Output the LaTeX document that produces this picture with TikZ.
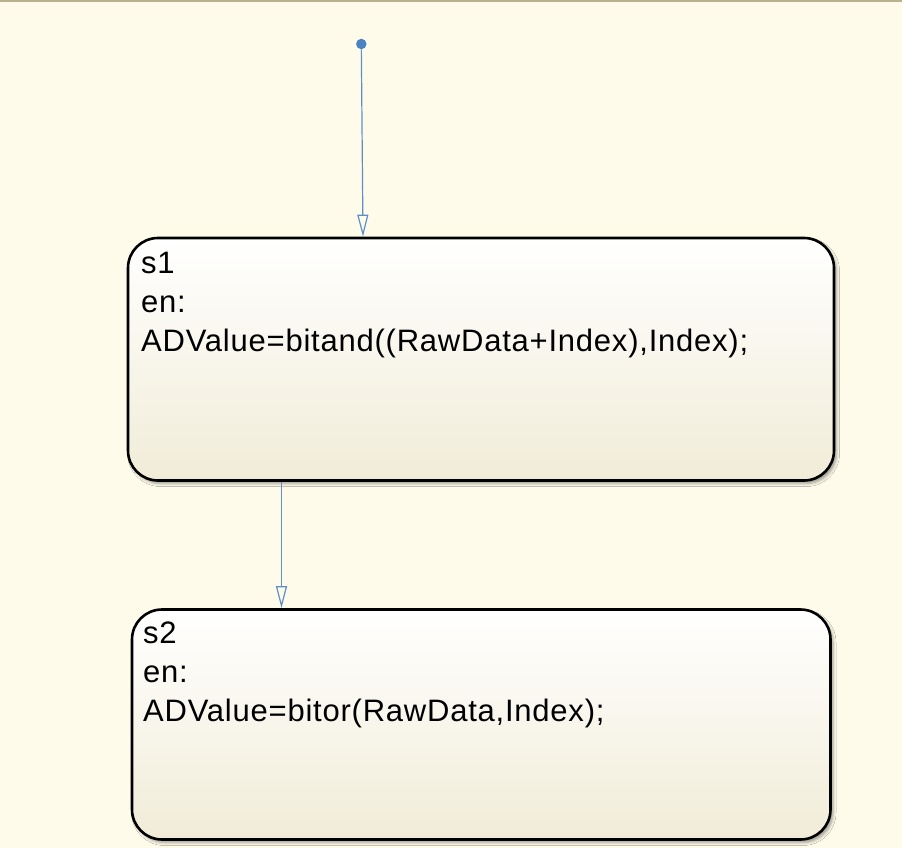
\documentclass[tikz,border=0pt]{standalone}
\usepackage{fontspec}
\setmainfont[LetterSpace=2.5]{Liberation Sans}
\usepackage{tikz}
\usetikzlibrary{positioning,arrows.meta,shadows.blur}
\definecolor{bg}{HTML}{FEFBEA}
\definecolor{edge}{HTML}{B8B190}
\definecolor{wire}{HTML}{5F8FC8}
\definecolor{dotc}{HTML}{4A82C4}
\definecolor{cream}{HTML}{F1ECD8}

\begin{document}
\begin{tikzpicture}[x=1pt,y=-1pt,
        state/.style={draw=black,line width=2.6pt,rounded corners=30pt,
                      top color=white,bottom color=cream,
                      blur shadow={shadow xshift=2.5pt,shadow yshift=-3pt,
                      shadow blur radius=3pt,shadow opacity=40}},
        lbl/.style={anchor=north west,inner sep=0pt,align=left,
                    font=\fontsize{31}{39}\selectfont},
        trans/.style={draw=wire,line width=1.2pt,
                      -{Triangle[open,length=22pt,width=11pt]}}]
        \fill[bg] (0,0) rectangle (902,848);
        \useasboundingbox (0,0) rectangle (902,848);
        \draw[edge,line width=1.5pt] (0,1) -- (902,1);
        % states
        \node[state,minimum width=706pt,minimum height=242.5pt] (s1)
          at (481,359.25) {};
        \node[state,minimum width=698.5pt,minimum height=230pt] (s2)
          at (481.25,724.5) {};
        \node[lbl] (s1txt) at (141,251.8)
          {s1\\en:\\ADValue=bitand((RawData+Index),Index);};
        \node[lbl] (s2txt) at (143,621.8)
          {s2\\en:\\ADValue=bitor(RawData,Index);};
        % transitions
        \node[circle,fill=dotc,inner sep=0pt,minimum size=10.5pt] (dot)
          at (361.3,44) {};
        \coordinate (t1) at (363,0);
        \coordinate (t2) at (281.5,0);
        \draw[trans] (dot) -- (s1.north -| t1);
        \draw[trans] (s1.south -| t2) -- (s2.north -| t2);
      \end{tikzpicture}
\end{document}
